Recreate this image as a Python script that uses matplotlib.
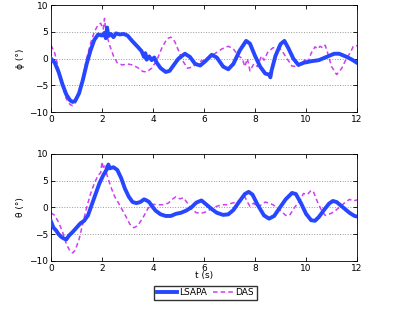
import matplotlib
matplotlib.use("Agg")
import matplotlib.pyplot as plt

# phi, LSAPA
t_phi_l = [0, 0.15, 0.3, 0.45, 0.6, 0.75, 0.85, 0.95, 1.1, 1.25, 1.4, 1.55, 1.7, 1.85, 2.0, 2.1, 2.15, 2.2, 2.25,
           2.35, 2.45, 2.55, 2.7, 2.85, 3.0, 3.2, 3.4, 3.55, 3.65, 3.7, 3.75, 3.85, 3.95, 4.05, 4.15, 4.3, 4.5,
           4.65, 4.8, 5.0, 5.25, 5.45, 5.65, 5.85, 6.05, 6.3, 6.5, 6.75, 6.95, 7.15, 7.4, 7.65, 7.8, 8.0, 8.2,
           8.4, 8.55, 8.6, 8.65, 8.8, 9.0, 9.15, 9.3, 9.5, 9.7, 9.9, 10.2, 10.5, 10.8, 11.1, 11.3, 11.6, 11.8, 12.0]
phi_l = [0.0, -0.8, -2.5, -4.8, -6.7, -7.8, -8.1, -7.9, -6.5, -4.0, -1.0, 1.5, 3.5, 4.5, 4.3, 4.8, 3.8, 5.8, 4.2,
         4.6, 4.0, 4.7, 4.5, 4.6, 4.3, 3.2, 2.2, 1.4, 0.3, 1.0, -0.2, 0.4, -0.3, 0.2, -0.8, -1.8, -2.5,
         -2.3, -1.3, 0.0, 0.9, 0.3, -1.0, -1.3, -0.5, 0.7, 0.2, -1.5, -2.0, -1.0, 1.5, 3.3, 2.8, 0.5, -1.5,
         -2.8, -3.0, -3.5, -2.2, 0.5, 2.7, 3.3, 2.0, 0.0, -1.2, -0.8, -0.5, -0.3, 0.3, 0.9, 0.9, 0.3, -0.2, -0.8]

# phi, DAS
t_phi_d = [0, 0.15, 0.3, 0.45, 0.6, 0.75, 0.85, 0.95, 1.1, 1.25, 1.4, 1.55, 1.7, 1.85, 1.95, 2.05, 2.1, 2.15,
           2.3, 2.45, 2.6, 2.8, 3.0, 3.2, 3.4, 3.6, 3.75, 3.95, 4.15, 4.35, 4.55, 4.7, 4.85, 5.0, 5.15, 5.35,
           5.55, 5.8, 6.0, 6.2, 6.45, 6.7, 6.95, 7.15, 7.35, 7.5, 7.6, 7.7, 7.8, 7.95, 8.1, 8.25, 8.35, 8.5,
           8.7, 8.9, 9.05, 9.25, 9.45, 9.65, 9.8, 9.95, 10.05, 10.2, 10.35, 10.45, 10.55, 10.65, 10.75, 10.85,
           11.0, 11.2, 11.4, 11.55, 11.65, 11.75, 11.85, 12.0]
phi_d = [2.5, 1.0, -2.0, -5.0, -7.5, -8.6, -8.8, -8.3, -6.5, -3.5, 0.0, 2.8, 5.0, 6.3, 6.6, 5.5, 7.5, 5.0,
         2.5, 0.5, -0.8, -1.2, -1.0, -1.2, -1.7, -2.4, -2.5, -1.8, -0.3, 2.0, 3.7, 4.0, 3.2, 1.5, -0.3, -1.8,
         -1.6, -0.6, -0.3, 0.2, 1.0, 1.8, 2.3, 1.8, 0.5, 0.0, -1.5, 0.0, -2.3, -1.0, -1.5, 0.5, -0.3, 1.2,
         2.0, 2.1, 1.5, 0.0, -1.4, -1.5, -1.0, -0.2, -1.0, 1.0, 2.2, 1.8, 2.3, 2.0, 2.5, 1.0,
         -1.5, -3.0, -1.8, -0.3, 0.5, 1.2, 2.3, 2.4]

# theta, LSAPA
t_th_l = [0, 0.1, 0.2, 0.3, 0.4, 0.5, 0.6, 0.7, 0.85, 1.0, 1.15, 1.3, 1.45, 1.6, 1.75, 1.9, 2.05, 2.2, 2.25,
          2.3, 2.45, 2.6, 2.75, 2.9, 3.05, 3.2, 3.35, 3.5, 3.65, 3.75, 3.85, 3.95, 4.1, 4.3, 4.5, 4.7, 4.9,
          5.1, 5.3, 5.5, 5.7, 5.9, 6.1, 6.3, 6.5, 6.75, 6.95, 7.15, 7.4, 7.6, 7.75, 7.9, 8.1, 8.35, 8.55,
          8.75, 8.95, 9.2, 9.45, 9.6, 9.8, 10.0, 10.2, 10.35, 10.5, 10.7, 10.9, 11.05, 11.2, 11.45, 11.7,
          11.9, 12.0]
th_l = [-2.6, -3.8, -4.3, -5.0, -5.5, -5.8, -6.0, -5.3, -4.6, -3.8, -3.0, -2.5, -1.5, 0.5, 2.5, 4.5, 6.0, 7.2, 8.0,
        7.3, 7.5, 7.0, 5.5, 3.5, 2.0, 1.0, 0.8, 1.0, 1.5, 1.3, 1.0, 0.3, -0.6, -1.3, -1.6, -1.6, -1.2,
        -1.0, -0.6, 0.0, 0.9, 1.3, 0.5, -0.3, -1.0, -1.4, -1.3, -0.5, 1.2, 2.5, 2.9, 2.4, 0.5, -1.5, -2.1,
        -1.6, -0.2, 1.5, 2.7, 2.5, 0.8, -1.2, -2.4, -2.5, -1.8, -0.5, 0.7, 1.2, 1.0, 0.0, -1.0,
        -1.6, -1.7]

# theta, DAS
t_th_d = [0, 0.15, 0.3, 0.45, 0.6, 0.75, 0.85, 0.95, 1.1, 1.25, 1.4, 1.55, 1.7, 1.85, 1.95, 2.0, 2.05, 2.1,
          2.2, 2.35, 2.5, 2.65, 2.8, 2.95, 3.1, 3.25, 3.4, 3.6, 3.8, 3.95, 4.15, 4.4, 4.6, 4.75, 4.9, 5.05,
          5.2, 5.35, 5.5, 5.7, 5.9, 6.1, 6.3, 6.5, 6.7, 6.9, 7.1, 7.3, 7.45, 7.6, 7.7, 7.8, 7.95, 8.1, 8.25,
          8.4, 8.55, 8.7, 8.85, 9.05, 9.2, 9.35, 9.55, 9.75, 9.9, 10.05, 10.2, 10.3, 10.45, 10.6, 10.75,
          10.9, 11.1, 11.3, 11.5, 11.7, 11.85, 12.0]
th_d = [-1.0, -1.5, -2.8, -4.5, -6.8, -8.2, -8.5, -8.0, -6.0, -3.0, 0.0, 2.5, 4.5, 6.0, 6.5, 8.5, 7.5, 8.0,
        6.0, 3.8, 2.0, 0.8, -0.5, -1.8, -3.2, -3.8, -3.4, -2.0, -0.2, 0.6, 0.5, 0.5, 0.8, 1.5, 2.0, 1.6,
        1.8, 0.8, -0.3, -1.0, -1.1, -0.8, -0.2, 0.2, 0.5, 0.5, 0.8, 1.0, 1.5, 2.0, 1.0, 0.2, 0.8, 0.0, 0.5,
        1.0, 0.8, 0.5, 0.0, -0.8, -1.5, -1.5, 0.0, 1.2, 2.6, 2.4, 3.2, 2.8, 1.0, -0.5, -1.5,
        -1.3, -0.8, 0.0, 0.8, 1.5, 1.2, 1.4]

blue = "#2747ff"
mag = "#cc3ff0"

fig = plt.figure(figsize=(3.95, 3.14), dpi=100)
ax1 = fig.add_axes([0.129, 0.643, 0.775, 0.341])
ax2 = fig.add_axes([0.129, 0.169, 0.775, 0.341])

for ax, tl, yl, td, yd, lab in [(ax1, t_phi_l, phi_l, t_phi_d, phi_d, "ϕ (°)"),
                                (ax2, t_th_l, th_l, t_th_d, th_d, "θ (°)")]:
    ax.plot(tl, yl, color=blue, lw=2.8, label="LSAPA", zorder=3)
    ax.plot(td, yd, color=mag, lw=1.1, ls=(0, (3, 2)), label="DAS", zorder=2)
    ax.set_xlim(0, 12)
    ax.set_ylim(-10, 10)
    ax.set_xticks([0, 2, 4, 6, 8, 10, 12])
    ax.set_yticks([-10, -5, 0, 5, 10])
    ax.set_yticklabels(["\u221210", "\u22125", "0", "5", "10"])
    ax.yaxis.grid(True, ls=":", color="#999999", lw=0.7)
    ax.tick_params(direction="in", top=True, right=True, labelsize=6.5, length=3, width=0.6, pad=2)
    for s in ax.spines.values():
        s.set_linewidth(0.6)
    ax.set_ylabel(lab, fontsize=6.5, labelpad=3)

ax2.set_xlabel("t (s)", fontsize=6.5, labelpad=-1)
h, l = ax2.get_legend_handles_labels()
fig.legend(h, l, loc="center", bbox_to_anchor=(0.52, 0.067), ncol=2, fontsize=6.5,
           frameon=True, fancybox=False, edgecolor="black", handlelength=2.2,
           columnspacing=0.6, handletextpad=0.3, borderpad=0.3)

fig.savefig("out.png", dpi=100)
